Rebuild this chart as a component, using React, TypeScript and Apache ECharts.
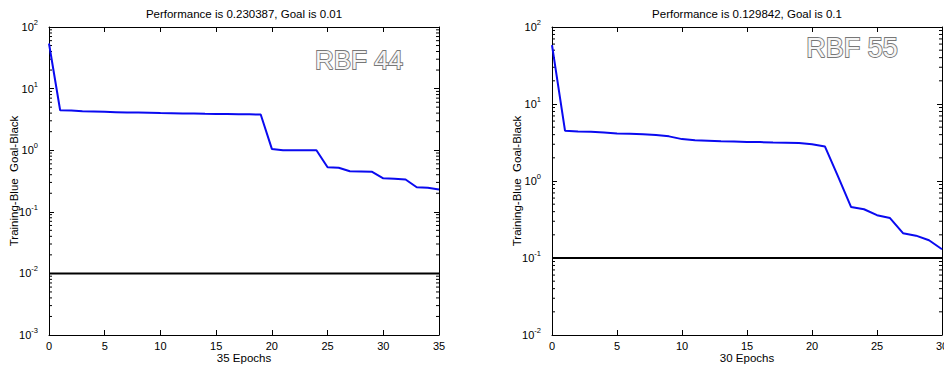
import React, { useEffect, useRef } from "react";
import * as echarts from "echarts";

// ---- data ----
const epochs44 = Array.from({ length: 36 }, (_, i) => i);
const perf44 = [
  54, 4.45, 4.4, 4.3, 4.25, 4.2, 4.15, 4.1, 4.08, 4.05, 4.0, 3.98, 3.96, 3.93,
  3.9, 3.88, 3.86, 3.84, 3.82, 3.8, 1.05, 1.0, 1.0, 1.0, 1.0, 0.53, 0.52,
  0.455, 0.45, 0.445, 0.35, 0.345, 0.335, 0.25, 0.245, 0.230387,
];
const goal44 = 0.01;

const epochs55 = Array.from({ length: 31 }, (_, i) => i);
const perf55 = [
  58, 4.5, 4.4, 4.35, 4.25, 4.15, 4.1, 4.05, 3.95, 3.8, 3.5, 3.38, 3.33, 3.28,
  3.25, 3.22, 3.2, 3.17, 3.15, 3.12, 3.0, 2.8, 1.15, 0.46, 0.43, 0.36, 0.33,
  0.21, 0.195, 0.17, 0.129842,
];
const goal55 = 0.1;

const titles = [
  "Performance is 0.230387, Goal is 0.01",
  "Performance is 0.129842, Goal is 0.1",
];
const xNames = ["35 Epochs", "30 Epochs"];
const yName = "Training-Blue  Goal-Black";
const badges = ["RBF 44", "RBF 55"];
const yRanges = [
  [0.001, 100],
  [0.01, 100],
];
const xMaxes = [35, 30];

const FONT = "'Liberation Sans', Arial, Helvetica, sans-serif";

function minorValues(min: number, max: number) {
  const out: number[][] = [];
  const k0 = Math.round(Math.log10(min));
  const k1 = Math.round(Math.log10(max));
  for (let k = k0; k < k1; k++) {
    for (let m = 2; m <= 9; m++) out.push([0, m * Math.pow(10, k)]);
  }
  return out;
}

export default function App() {
  const ref = useRef<HTMLDivElement>(null);
  useEffect(() => {
    if (!ref.current) return;
    const chart = echarts.init(ref.current, null, { renderer: "svg" });
    const grids = [
      { left: 49, top: 27, width: 390, height: 308, outerBoundsMode: "none", containLabel: false },
      { left: 552, top: 27, width: 390, height: 308, outerBoundsMode: "none", containLabel: false },
    ];
    const xAxes: any[] = [];
    const yAxes: any[] = [];
    const series: any[] = [];
    const lineStyle = { color: "#000", width: 1 };
    grids.forEach((g, i) => {
      const xBase = {
        gridIndex: i,
        type: "value",
        min: 0,
        max: xMaxes[i],
        interval: 5,
        axisLine: { show: true, onZero: false, lineStyle },
        axisTick: { show: true, inside: true, length: 5, lineStyle },
        splitLine: { show: false },
      };
      xAxes.push({
        ...xBase,
        position: "bottom",
        axisLabel: {
          margin: 5,
          fontSize: 11,
          color: "#000",
          fontFamily: FONT,
          showMaxLabel: true,
          showMinLabel: true,
        },
        name: xNames[i],
        nameLocation: "middle",
        nameGap: 17,
        nameMoveOverlap: false,
        nameTextStyle: { fontSize: 11.5, color: "#000", fontFamily: FONT },
      });
      xAxes.push({ ...xBase, position: "top", axisLabel: { show: false } });
      const yBase = {
        gridIndex: i,
        type: "log",
        logBase: 10,
        min: yRanges[i][0],
        max: yRanges[i][1],
        interval: 1,
        axisLine: { show: true, onZero: false, lineStyle },
        axisTick: { show: true, inside: true, length: 5, lineStyle },
        splitLine: { show: false },
      };
      yAxes.push({
        ...yBase,
        position: "left",
        axisLabel: {
          margin: 11,
          fontFamily: FONT,
          color: "#000",
          formatter: (v: number) => {
            const e = Math.round(Math.log10(v));
            return `{b|10}{s|${e}}`;
          },
          rich: {
            b: { fontSize: 11, color: "#000", fontFamily: FONT },
            s: {
              fontSize: 7.5,
              color: "#000",
              fontFamily: FONT,
              padding: [0, 0, 9, 0],
            },
          },
        },
        name: yName,
        nameLocation: "middle",
        nameGap: 29,
        nameMoveOverlap: false,
        nameTextStyle: { fontSize: 11.5, color: "#000", fontFamily: FONT },
      });
      yAxes.push({ ...yBase, position: "right", axisLabel: { show: false } });

      const xs = i === 0 ? epochs44 : epochs55;
      const ys = i === 0 ? perf44 : perf55;
      const goal = i === 0 ? goal44 : goal55;
      series.push({
        type: "line",
        xAxisIndex: i * 2,
        yAxisIndex: i * 2,
        data: xs.map((x, j) => [x, ys[j]]),
        showSymbol: false,
        symbol: "none",
        lineStyle: { color: "#0a0af0", width: 2 },
        z: 3,
      });
      series.push({
        type: "line",
        xAxisIndex: i * 2,
        yAxisIndex: i * 2,
        data: [
          [0, goal],
          [xMaxes[i], goal],
        ],
        showSymbol: false,
        symbol: "none",
        lineStyle: { color: "#000", width: 2 },
        z: 2,
      });
      series.push({
        type: "custom",
        xAxisIndex: i * 2,
        yAxisIndex: i * 2,
        data: minorValues(yRanges[i][0], yRanges[i][1]),
        clip: false,
        silent: true,
        renderItem: (params: any, api: any) => {
          const cs = params.coordSys;
          const p = api.coord([api.value(0), api.value(1)]);
          const y = p[1];
          return {
            type: "group",
            children: [
              {
                type: "line",
                shape: { x1: cs.x, y1: y, x2: cs.x + 3, y2: y },
                style: { stroke: "#000", lineWidth: 1 },
              },
              {
                type: "line",
                shape: {
                  x1: cs.x + cs.width,
                  y1: y,
                  x2: cs.x + cs.width - 3,
                  y2: y,
                },
                style: { stroke: "#000", lineWidth: 1 },
              },
            ],
          };
        },
      });
    });

    const textStyleBase = {
      fontFamily: FONT,
      align: "center",
      verticalAlign: "middle",
      textAlign: "center",
      textVerticalAlign: "middle",
    };
    const graphic: any[] = [
      {
        type: "text",
        x: 244,
        y: 14,
        style: { ...textStyleBase, text: titles[0], fontSize: 11.5, fill: "#000" },
      },
      {
        type: "text",
        x: 747,
        y: 14,
        style: { ...textStyleBase, text: titles[1], fontSize: 11.5, fill: "#000" },
      },
      {
        type: "text",
        x: 359,
        y: 60,
        z: 10,
        style: {
          ...textStyleBase,
          text: badges[0],
          fontSize: 26,
          fill: "#f6f6f6",
          stroke: "#777777",
          lineWidth: 1.8,
        },
      },
      {
        type: "text",
        x: 852,
        y: 48,
        z: 10,
        style: {
          ...textStyleBase,
          text: badges[1],
          fontSize: 27,
          fill: "#f6f6f6",
          stroke: "#777777",
          lineWidth: 1.8,
        },
      },
    ];

    chart.setOption({
      animation: false,
      backgroundColor: "#fff",
      grid: grids,
      xAxis: xAxes,
      yAxis: yAxes,
      series,
      graphic,
    });
    return () => chart.dispose();
  }, []);
  return (
    <div
      ref={ref}
      style={{ position: "fixed", left: 0, top: 0, width: 944, height: 366 }}
    />
  );
}
